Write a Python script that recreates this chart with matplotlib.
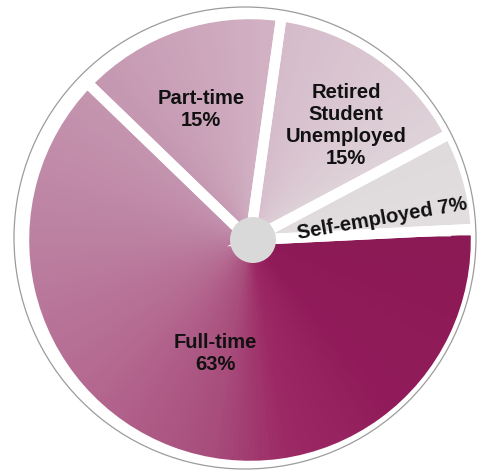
import numpy as np
import matplotlib
matplotlib.use("Agg")
import matplotlib.pyplot as plt
from matplotlib.colors import LinearSegmentedColormap
from matplotlib.patches import Circle

# data
labels = ["Part-time\n15%", "Retired\nStudent\nUnemployed\n15%", "Self-employed 7%", "Full-time\n63%"]
shares = [15, 15, 7, 63]

W, H = 479, 473
cx, cy = 250, H - 240   # pie centre in pixel coords (y up)
R = 226

fig = plt.figure(figsize=(W / 100, H / 100), dpi=100)
ax = fig.add_axes([0, 0, 1, 1])

wedges, _ = ax.pie(shares, startangle=136, counterclock=False, center=(cx, cy), radius=R,
                   wedgeprops=dict(facecolor="none", edgecolor="white", linewidth=7.5), frame=True)
ax.set_xlim(0, W)
ax.set_ylim(0, H)
ax.set_aspect("equal")
ax.axis("off")

# conic gradient, light grey just above 0 deg going round to dark magenta
cmap = LinearSegmentedColormap.from_list("conic", [
    (0.0, "#e3dfe1"), (0.07, "#dfdbdd"), (0.075, "#dfd3d9"), (0.22, "#d6bccb"),
    (0.225, "#d3b3c5"), (0.37, "#c597b1"), (0.5, "#bc80a1"), (0.62, "#b46890"),
    (0.72, "#a84d7c"), (0.775, "#9c2a65"), (0.86, "#921c5b"), (1.0, "#8b1a55")])
xs, ys = np.meshgrid(np.arange(W) + 0.5, np.arange(H) + 0.5)
theta = np.degrees(np.arctan2(ys - cy, xs - cx))
t = ((theta - 1) % 360) / 360
for w in wedges:
    im = ax.imshow(t, cmap=cmap, vmin=0, vmax=1, extent=(0, W, 0, H), origin="lower",
                   interpolation="bilinear", zorder=1.5)
    im.set_clip_path(w)
    w.set_zorder(2)

# outer thin ring
ax.add_patch(Circle((245, H - 238), 231, facecolor="none", edgecolor="#9c9c9c", lw=0.9, zorder=2.5))
# grey hub
ax.add_patch(Circle((253, H - 240), 23, facecolor="#d9d9d9", edgecolor="none", zorder=3))

font = dict(family="Liberation Sans", weight="bold", size=14.5, color="#111111",
            ha="center", va="center", linespacing=1.2, zorder=4)
ax.text(201, H - 110, labels[0], **font)
ax.text(346, H - 125, labels[1], **font)
ax.text(382, H - 219, labels[2], rotation=10, **font)
ax.text(215, H - 354, labels[3], **font)

fig.savefig("out.png", dpi=100)
